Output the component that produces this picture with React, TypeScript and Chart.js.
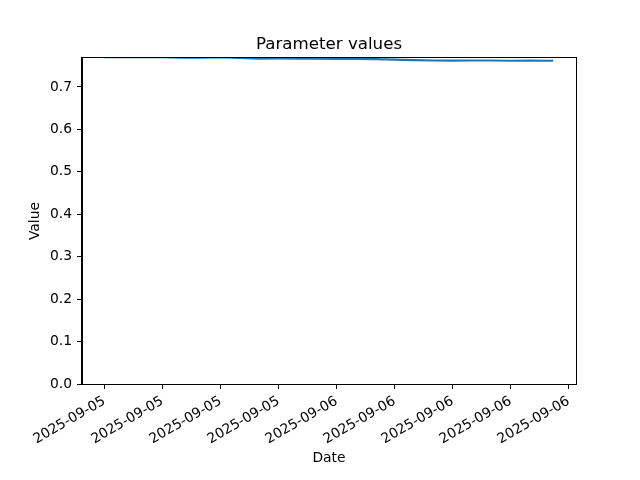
import React, { useEffect, useRef } from "react";
import { Chart, registerables } from "chart.js";

Chart.register(...registerables);

// Hours since 2025-09-05 12:00
const hours = [0, 1, 2, 3, 4, 5, 6, 7, 8, 9, 10, 11, 12, 13, 14, 15, 16, 17, 18, 19, 20, 21, 22, 23, 23.2];
const values = [
  0.7703, 0.7703, 0.7702, 0.7701, 0.769, 0.7688, 0.7701, 0.7685, 0.7668, 0.767, 0.7664, 0.7666,
  0.7663, 0.7662, 0.7657, 0.7645, 0.7632, 0.7625, 0.7622, 0.7623, 0.7624, 0.7618, 0.7622, 0.762, 0.7621,
];
const xTickValues = [0, 3, 6, 9, 12, 15, 18, 21, 24];
const xTickLabels = [
  "2025-09-05", "2025-09-05", "2025-09-05", "2025-09-05",
  "2025-09-06", "2025-09-06", "2025-09-06", "2025-09-06", "2025-09-06",
];
const yTickValues = [0, 0.1, 0.2, 0.3, 0.4, 0.5, 0.6, 0.7];
const titleText = "Parameter values";
const xTitle = "Date";
const yTitle = "Value";

const FONT = "'DejaVu Sans', sans-serif";

export default function App() {
  const ref = useRef<HTMLCanvasElement>(null);
  useEffect(() => {
    const canvas = ref.current!;
    const decor = {
      id: "decor",
      afterDatasetsDraw(chart: any) {
        const { ctx, chartArea } = chart;
        ctx.save();
        ctx.strokeStyle = "#000";
        ctx.lineWidth = 1;
        ctx.strokeRect(
          Math.round(chartArea.left) - 0.5,
          Math.round(chartArea.top) - 0.5,
          Math.round(chartArea.right - chartArea.left) + 1,
          Math.round(chartArea.bottom - chartArea.top) + 1
        );
        ctx.fillStyle = "#000";
        ctx.textAlign = "center";
        ctx.textBaseline = "middle";
        ctx.font = `16.67px ${FONT}`;
        ctx.fillText(titleText, (chartArea.left + chartArea.right) / 2, 44.5);
        ctx.font = `13.89px ${FONT}`;
        ctx.fillText(xTitle, (chartArea.left + chartArea.right) / 2, 458);
        ctx.translate(35, (chartArea.top + chartArea.bottom) / 2);
        ctx.rotate(-Math.PI / 2);
        ctx.fillText(yTitle, 0, 0);
        ctx.restore();
      },
    };
    const chart = new Chart(canvas, {
      type: "line",
      data: {
        datasets: [
          {
            data: hours.map((h, i) => ({ x: h, y: values[i] })),
            borderColor: "#1f77b4",
            borderWidth: 2.08,
            pointRadius: 0,
            tension: 0,
            fill: false,
            clip: 0,
          },
        ],
      },
      options: {
        animation: false,
        responsive: false,
        maintainAspectRatio: false,
        layout: { padding: { top: 58, right: 64, left: 0, bottom: 0 } },
        plugins: { legend: { display: false }, title: { display: false }, tooltip: { enabled: false } },
        scales: {
          x: {
            type: "linear",
            min: -1.16,
            max: 24.38,
            afterFit(scale: any) {
              scale.height = 96;
            },
            afterBuildTicks(scale: any) {
              scale.ticks = xTickValues.map((v) => ({ value: v }));
            },
            grid: { drawOnChartArea: false, drawTicks: true, tickLength: 5, color: "#000", lineWidth: 1 },
            border: { display: true, color: "#000", width: 1 },
            ticks: {
              minRotation: 30,
              maxRotation: 30,
              autoSkip: false,
              padding: 4,
              color: "#000",
              font: { family: FONT, size: 13.89 },
              callback: (v: any) => {
                const i = xTickValues.indexOf(Number(v));
                return i >= 0 ? xTickLabels[i] : "";
              },
            },
          },
          y: {
            type: "linear",
            min: 0,
            max: 0.7683,
            afterFit(scale: any) {
              scale.width = 82;
            },
            afterBuildTicks(scale: any) {
              scale.ticks = yTickValues.map((v) => ({ value: v }));
            },
            grid: { drawOnChartArea: false, drawTicks: true, tickLength: 5, color: "#000", lineWidth: 1 },
            border: { display: true, color: "#000", width: 1 },
            ticks: {
              padding: 5,
              color: "#000",
              font: { family: FONT, size: 13.89 },
              callback: (v: any) => Number(v).toFixed(1),
            },
          },
        },
      },
      plugins: [decor],
    } as any);
    return () => chart.destroy();
  }, []);
  return (
    <div style={{ position: "absolute", left: 0, top: 0, width: 640, height: 480, background: "#fff" }}>
      <canvas ref={ref} width={640} height={480} style={{ width: 640, height: 480 }} />
    </div>
  );
}
